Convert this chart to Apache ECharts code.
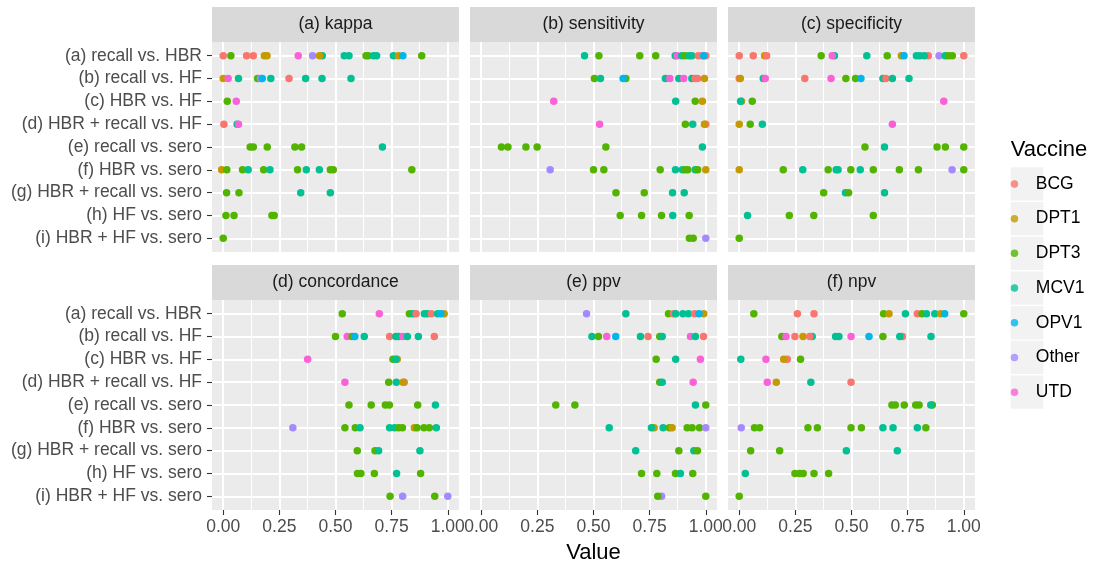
<!DOCTYPE html>
<html>
<head>
<meta charset="utf-8">
<script src="https://cdn.jsdelivr.net/npm/echarts@6.0.0/dist/echarts.min.js"></script>
<style>
html,body{margin:0;padding:0;background:#fff;}
#chart{width:1100px;height:567px;}
</style>
</head>
<body>
<div id="chart"></div>
<script>
// ---------- data ----------
const categories = ['(a) recall vs. HBR','(b) recall vs. HF','(c) HBR vs. HF','(d) HBR + recall vs. HF','(e) recall vs. sero','(f) HBR vs. sero','(g) HBR + recall vs. sero','(h) HF vs. sero','(i) HBR + HF vs. sero'];
const vaccines = ['BCG','DPT1','DPT3','MCV1','OPV1','Other','UTD'];
const panelTitles = ['(a) kappa','(b) sensitivity','(c) specificity','(d) concordance','(e) ppv','(f) npv'];
const xTicks = [0, 0.25, 0.5, 0.75, 1];
const xMinorTicks = [0.125, 0.375, 0.625, 0.875];
const rowTicks = [0,1,2,3,4,5,6,7,8];

// [row index, vaccine, value]
const kappa = [
 [0,'BCG',0.00],[0,'DPT3',0.034],[0,'BCG',0.104],[0,'BCG',0.134],[0,'DPT1',0.183],[0,'DPT1',0.195],[0,'UTD',0.334],[0,'Other',0.398],[0,'MCV1',0.441],[0,'DPT1',0.429],[0,'MCV1',0.539],[0,'MCV1',0.56],[0,'DPT3',0.636],[0,'DPT3',0.646],[0,'MCV1',0.669],[0,'MCV1',0.683],[0,'MCV1',0.758],[0,'DPT1',0.78],[0,'OPV1',0.80],[0,'DPT3',0.884],
 [1,'DPT1',0.0],[1,'UTD',0.022],[1,'MCV1',0.068],[1,'DPT3',0.153],[1,'Other',0.166],[1,'OPV1',0.174],[1,'MCV1',0.212],[1,'BCG',0.293],[1,'MCV1',0.367],[1,'MCV1',0.44],[1,'MCV1',0.569],
 [2,'DPT3',0.018],[2,'UTD',0.058],
 [3,'BCG',0.003],[3,'MCV1',0.062],[3,'UTD',0.068],
 [4,'DPT3',0.12],[4,'DPT3',0.134],[4,'DPT3',0.196],[4,'DPT3',0.319],[4,'DPT3',0.349],[4,'MCV1',0.709],
 [5,'DPT1',-0.007],[5,'DPT3',0.016],[5,'DPT3',0.086],[5,'MCV1',0.111],[5,'DPT3',0.18],[5,'MCV1',0.208],[5,'DPT3',0.331],[5,'MCV1',0.37],[5,'MCV1',0.428],[5,'DPT3',0.477],[5,'DPT3',0.49],[5,'DPT3',0.84],
 [6,'DPT3',0.015],[6,'DPT3',0.07],[6,'MCV1',0.345],[6,'MCV1',0.477],
 [7,'DPT3',0.012],[7,'DPT3',0.048],[7,'DPT3',0.217],[7,'DPT3',0.227],
 [8,'DPT3',0.0]
];
const sensitivity = [
 [0,'MCV1',0.46],[0,'DPT3',0.524],[0,'DPT3',0.706],[0,'DPT3',0.777],[0,'MCV1',0.864],[0,'UTD',0.872],[0,'MCV1',0.893],[0,'DPT3',0.908],[0,'MCV1',0.926],[0,'MCV1',0.938],[0,'BCG',0.967],[0,'BCG',0.985],[0,'BCG',1.0],[0,'OPV1',0.991],
 [1,'DPT3',0.504],[1,'MCV1',0.531],[1,'DPT3',0.644],[1,'OPV1',0.632],[1,'MCV1',0.82],[1,'UTD',0.84],[1,'MCV1',0.88],[1,'UTD',0.902],[1,'MCV1',0.938],[1,'BCG',0.953],[1,'BCG',0.963],[1,'DPT1',0.994],
 [2,'UTD',0.323],[2,'MCV1',0.866],[2,'DPT3',0.953],[2,'DPT1',0.985],
 [3,'UTD',0.527],[3,'DPT3',0.909],[3,'MCV1',0.942],[3,'BCG',1.0],[3,'DPT1',0.994],
 [4,'DPT3',0.09],[4,'DPT3',0.119],[4,'DPT3',0.199],[4,'DPT3',0.249],[4,'DPT3',0.555],[4,'MCV1',0.985],
 [5,'Other',0.307],[5,'DPT3',0.5],[5,'DPT3',0.546],[5,'DPT3',0.797],[5,'MCV1',0.865],[5,'MCV1',0.896],[5,'DPT3',0.908],[5,'DPT3',0.92],[5,'MCV1',0.953],[5,'DPT3',0.964],[5,'DPT1',1.0],
 [6,'DPT3',0.6],[6,'DPT3',0.726],[6,'MCV1',0.852],[6,'MCV1',0.904],
 [7,'DPT3',0.619],[7,'DPT3',0.714],[7,'DPT3',0.803],[7,'MCV1',0.853],[7,'DPT3',0.926],
 [8,'DPT3',0.927],[8,'DPT3',0.944],[8,'Other',1.0]
];
const specificity = [
 [0,'BCG',0.0],[0,'BCG',0.0625],[0,'DPT1',0.113],[0,'BCG',0.122],[0,'DPT3',0.365],[0,'MCV1',0.424],[0,'UTD',0.414],[0,'MCV1',0.568],[0,'DPT3',0.659],[0,'DPT1',0.722],[0,'OPV1',0.734],[0,'MCV1',0.789],[0,'BCG',0.842],[0,'MCV1',0.804],[0,'MCV1',0.824],[0,'Other',0.89],[0,'MCV1',0.917],[0,'DPT3',0.932],[0,'DPT3',0.949],[0,'BCG',1.0],
 [1,'BCG',0.0],[1,'DPT1',0.005],[1,'MCV1',0.107],[1,'UTD',0.116],[1,'BCG',0.292],[1,'UTD',0.409],[1,'DPT3',0.475],[1,'DPT3',0.518],[1,'OPV1',0.542],[1,'MCV1',0.64],[1,'BCG',0.653],[1,'MCV1',0.682],[1,'MCV1',0.756],
 [2,'DPT1',0.01],[2,'MCV1',0.006],[2,'DPT3',0.058],[2,'UTD',0.911],
 [3,'DPT1',0.0],[3,'DPT3',0.049],[3,'MCV1',0.103],[3,'UTD',0.682],
 [4,'DPT3',0.56],[4,'MCV1',0.647],[4,'DPT3',0.881],[4,'DPT3',0.918],[4,'DPT3',1.0],
 [5,'DPT1',0.0],[5,'DPT3',0.196],[5,'MCV1',0.283],[5,'DPT3',0.396],[5,'MCV1',0.432],[5,'MCV1',0.44],[5,'DPT3',0.497],[5,'MCV1',0.539],[5,'DPT3',0.597],[5,'DPT3',0.713],[5,'DPT3',0.798],[5,'Other',0.948],[5,'DPT3',1.0],
 [6,'DPT3',0.376],[6,'MCV1',0.473],[6,'DPT3',0.487],[6,'MCV1',0.647],
 [7,'MCV1',0.037],[7,'DPT3',0.223],[7,'DPT3',0.332],[7,'DPT3',0.597],
 [8,'DPT3',0.0]
];
const concordance = [
 [0,'DPT3',0.53],[0,'UTD',0.695],[0,'DPT3',0.829],[0,'MCV1',0.845],[0,'BCG',0.859],[0,'MCV1',0.896],[0,'MCV1',0.909],[0,'BCG',0.927],[0,'MCV1',0.955],[0,'DPT1',0.984],[0,'OPV1',0.969],
 [1,'DPT3',0.5],[1,'UTD',0.552],[1,'DPT3',0.574],[1,'OPV1',0.586],[1,'MCV1',0.628],[1,'BCG',0.741],[1,'MCV1',0.769],[1,'MCV1',0.781],[1,'UTD',0.8],[1,'MCV1',0.82],[1,'MCV1',0.869],[1,'BCG',0.94],
 [2,'UTD',0.376],[2,'DPT1',0.775],[2,'DPT3',0.756],[2,'MCV1',0.769],
 [3,'UTD',0.542],[3,'DPT3',0.737],[3,'MCV1',0.771],[3,'BCG',0.806],[3,'DPT1',0.801],
 [4,'DPT3',0.56],[4,'DPT3',0.659],[4,'DPT3',0.722],[4,'DPT3',0.74],[4,'DPT3',0.866],[4,'MCV1',0.945],
 [5,'Other',0.31],[5,'DPT3',0.542],[5,'DPT3',0.588],[5,'MCV1',0.609],[5,'MCV1',0.741],[5,'MCV1',0.763],[5,'DPT3',0.781],[5,'DPT3',0.798],[5,'DPT1',0.851],[5,'DPT3',0.863],[5,'DPT3',0.894],[5,'DPT3',0.918],[5,'MCV1',0.949],
 [6,'DPT3',0.597],[6,'DPT3',0.676],[6,'MCV1',0.692],[6,'MCV1',0.876],
 [7,'DPT3',0.598],[7,'DPT3',0.613],[7,'DPT3',0.673],[7,'MCV1',0.772],[7,'DPT3',0.879],
 [8,'DPT3',0.743],[8,'Other',0.799],[8,'DPT3',0.942],[8,'Other',1.0]
];
const ppv = [
 [0,'Other',0.469],[0,'MCV1',0.644],[0,'DPT3',0.834],[0,'BCG',0.856],[0,'MCV1',0.866],[0,'MCV1',0.898],[0,'MCV1',0.923],[0,'BCG',0.95],[0,'DPT1',0.991],[0,'OPV1',0.97],
 [1,'MCV1',0.493],[1,'DPT3',0.522],[1,'UTD',0.559],[1,'OPV1',0.599],[1,'MCV1',0.709],[1,'BCG',0.743],[1,'DPT3',0.795],[1,'MCV1',0.806],[1,'UTD',0.932],[1,'MCV1',0.954],[1,'BCG',0.99],
 [2,'DPT3',0.779],[2,'MCV1',0.866],[2,'UTD',0.976],
 [3,'DPT3',0.795],[3,'MCV1',0.806],[3,'UTD',0.944],
 [4,'DPT3',0.332],[4,'DPT3',0.417],[4,'MCV1',0.954],[4,'DPT3',1.0],
 [5,'MCV1',0.57],[5,'DPT1',0.77],[5,'MCV1',0.758],[5,'MCV1',0.81],[5,'DPT3',0.838],[5,'DPT1',0.85],[5,'DPT3',0.917],[5,'DPT3',0.939],[5,'DPT3',0.972],[5,'Other',1.0],
 [6,'MCV1',0.688],[6,'DPT3',0.88],[6,'MCV1',0.947],[6,'DPT3',0.963],
 [7,'DPT3',0.714],[7,'DPT3',0.782],[7,'DPT3',0.865],[7,'MCV1',0.887],[7,'DPT3',0.942],
 [8,'Other',0.803],[8,'DPT3',0.786],[8,'DPT3',1.0]
];
const npv = [
 [0,'DPT3',0.065],[0,'BCG',0.259],[0,'BCG',0.333],[0,'DPT3',0.643],[0,'DPT1',0.667],[0,'MCV1',0.74],[0,'BCG',0.793],[0,'DPT3',0.814],[0,'MCV1',0.834],[0,'MCV1',0.871],[0,'DPT1',0.897],[0,'OPV1',0.915],[0,'DPT3',1.0],
 [1,'DPT3',0.19],[1,'UTD',0.208],[1,'BCG',0.248],[1,'DPT1',0.284],[1,'MCV1',0.325],[1,'BCG',0.314],[1,'MCV1',0.429],[1,'MCV1',0.444],[1,'UTD',0.498],[1,'OPV1',0.578],[1,'DPT3',0.64],[1,'BCG',0.727],[1,'MCV1',0.715],[1,'MCV1',0.854],
 [2,'MCV1',0.007],[2,'UTD',0.119],[2,'BCG',0.214],[2,'DPT1',0.198],[2,'DPT3',0.273],
 [3,'UTD',0.125],[3,'DPT1',0.165],[3,'MCV1',0.319],[3,'BCG',0.498],
 [4,'DPT3',0.68],[4,'DPT3',0.695],[4,'DPT3',0.735],[4,'DPT3',0.786],[4,'DPT3',0.801],[4,'DPT3',0.86],[4,'MCV1',0.853],
 [5,'Other',0.009],[5,'DPT3',0.068],[5,'DPT3',0.091],[5,'DPT3',0.306],[5,'DPT3',0.348],[5,'DPT3',0.498],[5,'DPT3',0.544],[5,'MCV1',0.64],[5,'MCV1',0.685],[5,'MCV1',0.793],[5,'DPT3',0.831],
 [6,'DPT3',0.051],[6,'DPT3',0.18],[6,'MCV1',0.477],[6,'MCV1',0.704],
 [7,'MCV1',0.027],[7,'DPT3',0.248],[7,'DPT3',0.269],[7,'DPT3',0.285],[7,'DPT3',0.333],[7,'DPT3',0.398],
 [8,'DPT3',0.0]
];

// ---------- styling / layout ----------
const colorMap = {BCG:'#F8766D', DPT1:'#C49A00', DPT3:'#53B400', MCV1:'#00C094', OPV1:'#00B6EB', Other:'#A58AFF', UTD:'#FB61D7'};
const FONT = '"Liberation Sans", Arial, sans-serif';
const FS = 17.5;
const CLEAR = 'rgba(0,0,0,0)';
const panels = [kappa, sensitivity, specificity, concordance, ppv, npv];
const LEFTS = [212, 470, 728], TOPS = [42, 300], PW = 247, PH = 210, STRIP = 35;
const X_MIN = -0.05, X_MAX = 1.05, Y_MIN = -0.6, Y_MAX = 8.6;

const grids = [], xAxes = [], yAxes = [], series = [], graphics = [];
panels.forEach((pdata, i) => {
  const col = i % 3, row = Math.floor(i / 3);
  const bottomRow = row === 1, leftCol = col === 0;
  grids.push({left: LEFTS[col], top: TOPS[row], width: PW, height: PH, show: true,
    backgroundColor: '#EBEBEB', borderWidth: 0});
  // major x axis (ticks, labels, major grid lines)
  xAxes.push({type: 'value', gridIndex: i, min: X_MIN, max: X_MAX,
    axisLine: {show: true, onZero: false, lineStyle: {color: CLEAR}},
    axisTick: {show: true, customValues: xTicks, length: 5,
      lineStyle: {color: bottomRow ? '#333333' : CLEAR, width: 1.1}},
    axisLabel: {show: true, customValues: xTicks, formatter: v => Number(v).toFixed(2),
      color: bottomRow ? '#4D4D4D' : CLEAR, fontSize: FS, fontFamily: FONT, margin: 8},
    splitLine: {show: true, lineStyle: {color: '#FFFFFF', width: 2}}});
  // minor x axis (minor grid lines only)
  xAxes.push({type: 'value', gridIndex: i, min: X_MIN, max: X_MAX,
    axisLine: {show: true, onZero: false, lineStyle: {color: CLEAR}},
    axisTick: {show: true, customValues: xMinorTicks, lineStyle: {color: CLEAR}},
    axisLabel: {show: true, customValues: xMinorTicks, color: CLEAR, formatter: () => ''},
    splitLine: {show: true, lineStyle: {color: '#FFFFFF', width: 1}}});
  yAxes.push({type: 'value', gridIndex: i, min: Y_MIN, max: Y_MAX, inverse: true,
    axisLine: {show: true, onZero: false, lineStyle: {color: CLEAR}},
    axisTick: {show: true, customValues: rowTicks, length: 5,
      lineStyle: {color: leftCol ? '#333333' : CLEAR, width: 1.1}},
    axisLabel: {show: true, customValues: rowTicks, formatter: v => leftCol ? categories[Math.round(v)] : '',
      color: '#4D4D4D', fontSize: FS, fontFamily: FONT, margin: 10},
    splitLine: {show: true, lineStyle: {color: '#FFFFFF', width: 2}}});
  series.push({type: 'scatter', xAxisIndex: 2 * i, yAxisIndex: i, symbolSize: 7.5,
    data: pdata.map(d => [d[2], d[0], d[1]]),
    itemStyle: {color: p => colorMap[p.data[2]], opacity: 1}});
  // strip
  graphics.push({type: 'rect', silent: true, shape: {x: LEFTS[col], y: TOPS[row] - STRIP, width: PW, height: STRIP},
    style: {fill: '#D9D9D9'}});
  graphics.push({type: 'text', silent: true, style: {text: panelTitles[i], x: LEFTS[col] + PW / 2, y: TOPS[row] - STRIP / 2,
    align: 'center', verticalAlign: 'middle', fill: '#1A1A1A', font: FS + 'px ' + FONT}});
});
// legend-only series
vaccines.forEach(v => series.push({type: 'scatter', name: v, xAxisIndex: 0, yAxisIndex: 0, data: [],
  itemStyle: {color: colorMap[v]}}));

// legend key backgrounds
const KEY_X = 1010.7, KEY_Y = 167.3, KEY_STEP = 34.7;
vaccines.forEach((v, k) => graphics.push({type: 'rect', silent: true,
  shape: {x: KEY_X, y: KEY_Y + k * KEY_STEP, width: 32.7, height: 33.3}, style: {fill: '#F2F2F2'}}));
graphics.push({type: 'text', silent: true, style: {text: 'Vaccine', x: KEY_X, y: 150, align: 'left', verticalAlign: 'middle',
  fill: '#000000', font: '22px ' + FONT}});
graphics.push({type: 'text', silent: true, style: {text: 'Value', x: (212 + 975) / 2, y: 553, align: 'center', verticalAlign: 'middle',
  fill: '#000000', font: '22px ' + FONT}});

const chart = echarts.init(document.getElementById('chart'), null, {renderer: 'canvas'});
chart.setOption({
  animation: false,
  grid: grids, xAxis: xAxes, yAxis: yAxes, series: series,
  legend: {data: vaccines, orient: 'vertical', left: KEY_X, top: KEY_Y + 33.3 / 2 - KEY_STEP / 2, padding: 0,
    itemWidth: 32.7, itemHeight: 7.5, itemGap: 0, icon: 'circle', selectedMode: false,
    textStyle: {fontSize: FS, color: '#000000', fontFamily: FONT, lineHeight: KEY_STEP}},
  graphic: {elements: graphics}
});
</script>
</body>
</html>
